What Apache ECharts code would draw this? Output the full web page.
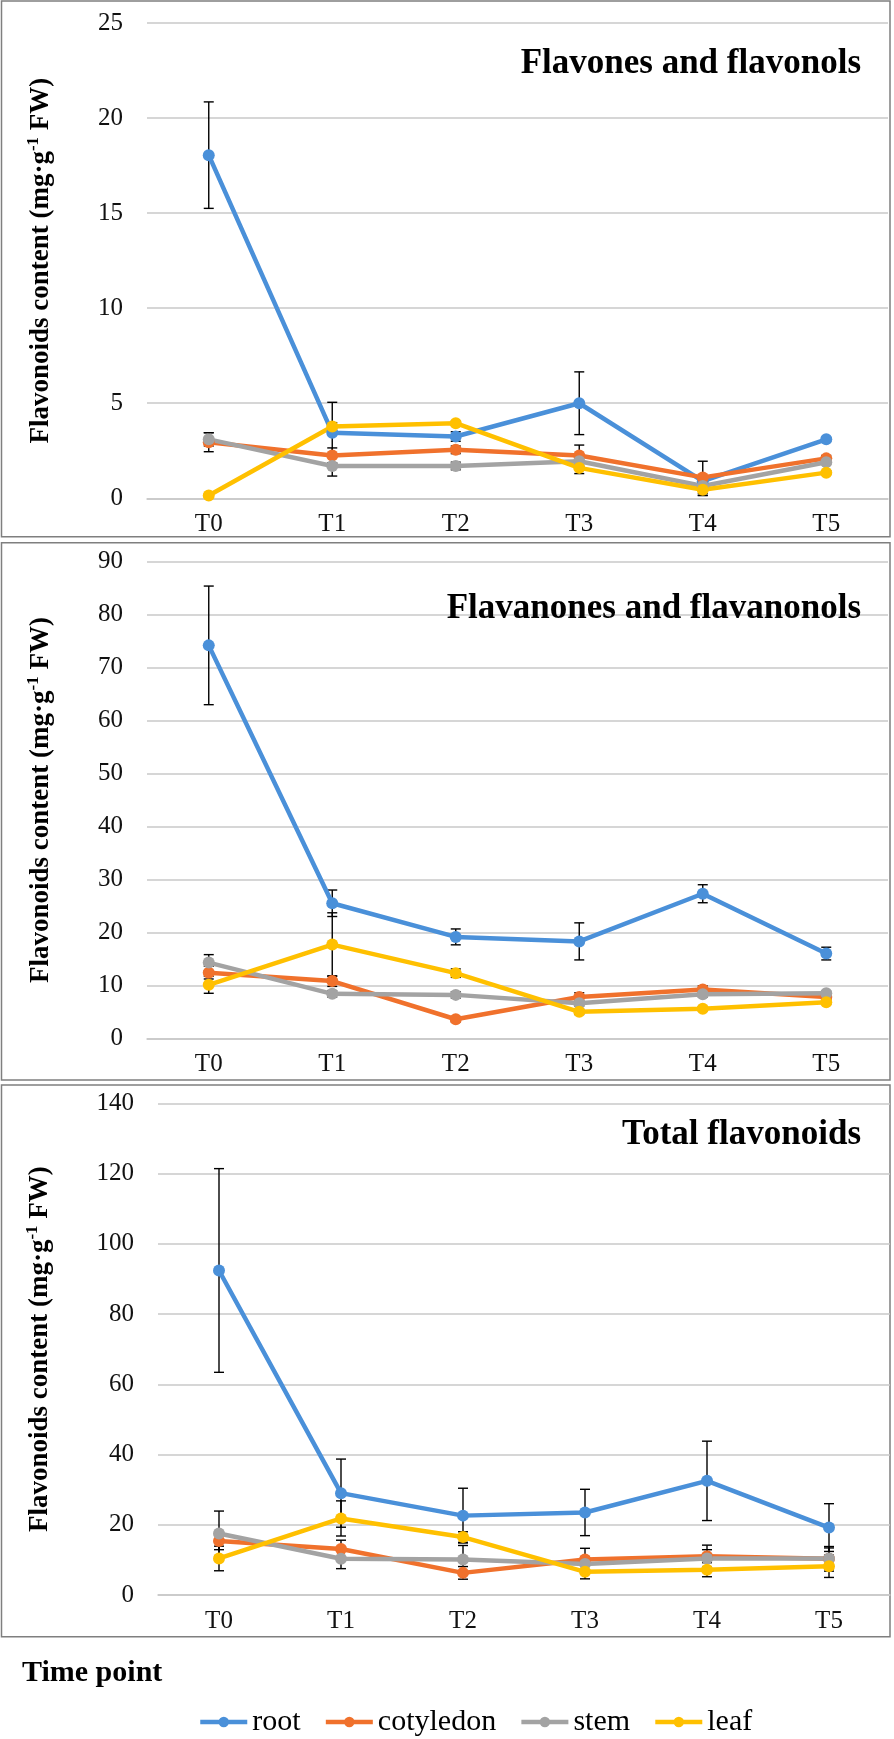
<!DOCTYPE html>
<html>
<head>
<meta charset="utf-8">
<script src="https://cdn.jsdelivr.net/npm/echarts@6/dist/echarts.min.js"></script>
<style>
  html, body { margin: 0; padding: 0; background: #fff; }
  #chart { width: 894px; height: 1739px; }
</style>
</head>
<body>
<div id="chart"></div>
<script>
const categories = ['T0', 'T1', 'T2', 'T3', 'T4', 'T5'];
const tissues = ['root', 'cotyledon', 'stem', 'leaf'];

// Flavones and flavonols
const flavonesRoot = [18.05, 3.45, 3.25, 5.0, 0.9, 3.1];
const flavonesRootErr = [2.8, 1.6, 0.25, 1.65, 0.2, 0.1];
const flavonesCotyledon = [2.95, 2.25, 2.55, 2.25, 1.1, 2.1];
const flavonesCotyledonErr = [0.5, 0.4, 0.2, 0.55, 0.85, 0.15];
const flavonesStem = [3.1, 1.7, 1.7, 1.95, 0.65, 1.9];
const flavonesStemErr = [0.35, 0.53, 0.2, 0.3, 0.5, 0.1];
const flavonesLeaf = [0.15, 3.78, 3.95, 1.6, 0.45, 1.35];
const flavonesLeafErr = [0.05, 0.2, 0.1, 0.3, 0.3, 0.1];

// Flavanones and flavanonols
const flavanonesRoot = [74.2, 25.5, 19.15, 18.3, 27.3, 16.0];
const flavanonesRootErr = [11.2, 2.5, 1.5, 3.5, 1.7, 1.2];
const flavanonesCotyledon = [12.4, 10.8, 3.6, 7.8, 9.2, 7.8];
const flavanonesCotyledonErr = [1.2, 1.0, 0.5, 0.8, 0.7, 0.5];
const flavanonesStem = [14.3, 8.4, 8.2, 6.6, 8.3, 8.5];
const flavanonesStemErr = [1.5, 0.6, 0.6, 0.5, 0.5, 0.4];
const flavanonesLeaf = [10.1, 17.7, 12.3, 5.0, 5.6, 6.8];
const flavanonesLeafErr = [1.6, 6.0, 0.8, 0.5, 0.4, 0.4];

// Total flavonoids
const totalRoot = [92.4, 29.0, 22.6, 23.5, 32.5, 19.2];
const totalRootErr = [29, 9.7, 7.8, 6.6, 11.3, 6.8];
const totalCotyledon = [15.4, 13.1, 6.3, 10.1, 11.0, 10.3];
const totalCotyledonErr = [2.5, 2.5, 1.8, 3.2, 3.2, 3.5];
const totalStem = [17.5, 10.3, 10.1, 8.8, 10.4, 10.4];
const totalStemErr = [6.4, 2.8, 4.0, 2.0, 2.5, 3.0];
const totalLeaf = [10.4, 21.8, 16.5, 6.6, 7.2, 8.2];
const totalLeafErr = [3.5, 5.0, 1.5, 2.0, 2.0, 3.2];

const yTicksMax = [25, 90, 140];
const yTicksStep = [5, 10, 20];
const panelTitles = ['Flavones and flavonols', 'Flavanones and flavanonols', 'Total flavonoids'];

const panels = [
  {
    values: [flavonesRoot, flavonesCotyledon, flavonesStem, flavonesLeaf],
    errors: [flavonesRootErr, flavonesCotyledonErr, flavonesStemErr, flavonesLeafErr],
  },
  {
    values: [flavanonesRoot, flavanonesCotyledon, flavanonesStem, flavanonesLeaf],
    errors: [flavanonesRootErr, flavanonesCotyledonErr, flavanonesStemErr, flavanonesLeafErr],
  },
  {
    values: [totalRoot, totalCotyledon, totalStem, totalLeaf],
    errors: [totalRootErr, totalCotyledonErr, totalStemErr, totalLeafErr],
  },
];

const FONT = "'Liberation Serif', 'Times New Roman', serif";
const colors = ['#4a90d9', '#f0712c', '#a3a3a3', '#ffc000'];

// pixel layout of the three stacked panels
const grids = [
  { left: 147, right: 6, top: 23, height: 475.3 },
  { left: 147, right: 6, top: 561.7, height: 476.6 },
  { left: 158, right: 4, top: 1103.3, height: 491.7 },
];
const nameGaps = [90, 90, 102];
const titleTops = [41, 586, 1112];
const frames = [
  { y: 1, h: 535.7 },
  { y: 542.7, h: 537.3 },
  { y: 1085, h: 551.7 },
];

const renderErrorBar = (params, api) => {
  const x = api.value(0);
  const top = api.coord([x, api.value(2)]);
  const bot = api.coord([x, api.value(1)]);
  const w = 5;
  const style = { stroke: '#000', lineWidth: 1.4 };
  return {
    type: 'group',
    children: [
      { type: 'line', shape: { x1: top[0], y1: top[1], x2: bot[0], y2: bot[1] }, style },
      { type: 'line', shape: { x1: top[0] - w, y1: top[1], x2: top[0] + w, y2: top[1] }, style },
      { type: 'line', shape: { x1: bot[0] - w, y1: bot[1], x2: bot[0] + w, y2: bot[1] }, style },
    ],
  };
};

const series = [];
panels.forEach((panel, p) => {
  panel.values.forEach((vals, s) => {
    series.push({
      name: tissues[s],
      type: 'line',
      xAxisIndex: p,
      yAxisIndex: p,
      z: 3,
      data: vals,
      symbol: 'circle',
      symbolSize: 12,
      color: colors[s],
      lineStyle: { width: 4.5, color: colors[s] },
      itemStyle: { color: colors[s] },
    });
  });
  panel.values.forEach((vals, s) => {
    series.push({
      name: tissues[s] + ' error',
      type: 'custom',
      xAxisIndex: p,
      yAxisIndex: p,
      z: 1,
      silent: true,
      renderItem: renderErrorBar,
      encode: { x: 0, y: [1, 2] },
      data: vals.map((v, i) => [i, v - panel.errors[s][i], v + panel.errors[s][i]]),
    });
  });
});

const option = {
  animation: false,
  backgroundColor: '#fff',
  title: panelTitles
    .map((t, i) => ({
      text: t,
      right: 28,
      top: titleTops[i],
      textStyle: { fontFamily: FONT, fontSize: 35, fontWeight: 'bold', color: '#000' },
    }))
    .concat([{
      text: 'Time point',
      left: 17,
      top: 1653,
      textStyle: { fontFamily: FONT, fontSize: 30, fontWeight: 'bold', color: '#000' },
    }]),
  legend: {
    data: tissues,
    left: 193,
    top: 1702,
    itemWidth: 47,
    itemHeight: 13,
    itemGap: 23,
    lineStyle: { width: 4.5 },
    textStyle: { fontFamily: FONT, fontSize: 30, color: '#000' },
  },
  graphic: frames.map((f) => ({
    type: 'rect',
    silent: true,
    shape: { x: 1.5, y: f.y, width: 888.5, height: f.h },
    style: { fill: 'none', stroke: '#7f7f7f', lineWidth: 1.5 },
  })),
  grid: grids.map((g) => Object.assign({ outerBoundsMode: 'none' }, g)),
  xAxis: grids.map((g, i) => ({
    type: 'category',
    gridIndex: i,
    data: categories,
    boundaryGap: true,
    axisLine: { show: true, lineStyle: { color: '#c8c8c8', width: 1.5 } },
    axisTick: { show: false },
    axisLabel: { margin: 14, fontFamily: FONT, fontSize: 25, color: '#111' },
  })),
  yAxis: grids.map((g, i) => ({
    type: 'value',
    gridIndex: i,
    min: 0,
    max: yTicksMax[i],
    interval: yTicksStep[i],
    axisLine: { show: false },
    axisTick: { show: false },
    splitLine: { lineStyle: { color: '#c8c8c8', width: 1.5 } },
    axisLabel: { margin: 24, fontFamily: FONT, fontSize: 25, color: '#111' },
    name: '{b|Flavonoids content (mg·g}{s|-1}{b| FW)}',
    nameLocation: 'middle',
    nameRotate: 90,
    nameGap: nameGaps[i],
    nameTextStyle: {
      rich: {
        b: { fontFamily: FONT, fontSize: 27, fontWeight: 'bold', color: '#000', lineHeight: 32 },
        s: { fontFamily: FONT, fontSize: 17, fontWeight: 'bold', color: '#000', verticalAlign: 'top' },
      },
    },
  })),
  series,
};

const chart = echarts.init(document.getElementById('chart'));
chart.setOption(option, true);
</script>
</body>
</html>
